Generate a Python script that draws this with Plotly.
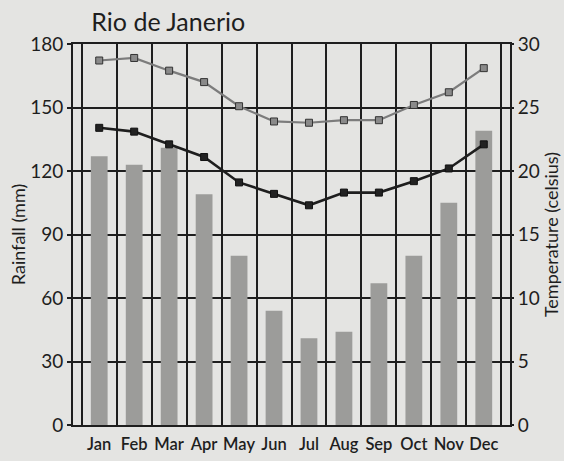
import plotly.graph_objects as go

months = ["Jan", "Feb", "Mar", "Apr", "May", "Jun", "Jul", "Aug", "Sep", "Oct", "Nov", "Dec"]
rainfall_mm = [127, 123, 131, 109, 80, 54, 41, 44, 67, 80, 105, 139]
temp_max_c = [28.7, 28.9, 27.9, 27.0, 25.1, 23.9, 23.8, 24.0, 24.0, 25.2, 26.2, 28.1]
temp_min_c = [23.4, 23.1, 22.1, 21.1, 19.1, 18.2, 17.3, 18.3, 18.3, 19.2, 20.2, 22.1]

bg = "#e4e4e2"
ink = "#1e1e1e"
font_family = "Lato, 'Open Sans', sans-serif"

fig = go.Figure()
fig.add_trace(go.Bar(x=months, y=rainfall_mm, marker=dict(color="#9c9c9a", line=dict(width=0)),
                     yaxis="y", showlegend=False))
fig.add_trace(go.Scatter(x=months, y=temp_max_c, yaxis="y2", mode="lines+markers",
                         line=dict(color="#7c7c7c", width=2.2),
                         marker=dict(symbol="square", size=7, color="#8a8a8a",
                                     line=dict(color="#333333", width=1)),
                         showlegend=False))
fig.add_trace(go.Scatter(x=months, y=temp_min_c, yaxis="y2", mode="lines+markers",
                         line=dict(color=ink, width=2.6),
                         marker=dict(symbol="square", size=7, color="#222222",
                                     line=dict(color="#111111", width=1)),
                         showlegend=False))

fig.update_layout(
    width=564, height=461,
    margin=dict(l=73, r=54, t=44, b=36, autoexpand=False),
    paper_bgcolor=bg, plot_bgcolor=bg,
    font=dict(family=font_family, color=ink),
    bargap=0.52,
    title=dict(text="Rio de Janerio", x=0.162, xanchor="left", y=0.952, yanchor="middle",
               font=dict(size=25, color=ink)),
    xaxis=dict(type="category", tickson="boundaries", showgrid=True, gridcolor=ink, gridwidth=1.5,
               showline=True, linecolor=ink, linewidth=2, mirror=True, tickangle=0,
               ticks="", tickfont=dict(size=16.5, color=ink, weight=600), ticklabelstandoff=3,
               automargin=False),
    yaxis=dict(range=[0, 180], dtick=30, showgrid=True, gridcolor=ink, gridwidth=1.5,
               showline=True, linecolor=ink, linewidth=2, mirror=True, zeroline=False,
               ticks="outside", ticklen=4, tickcolor=ink, tickwidth=1.5,
               tickfont=dict(size=19, color=ink), automargin=False,
               title=dict(text="Rainfall (mm)", font=dict(size=18, color=ink), standoff=0)),
    yaxis2=dict(range=[0, 30], dtick=5, overlaying="y", side="right", showgrid=False,
                zeroline=False, ticks="outside", ticklen=3, tickcolor=ink, tickwidth=1.5,
                tickfont=dict(size=19, color=ink), automargin=False,
                title=dict(text="Temperature (celsius)", font=dict(size=18, color=ink), standoff=2)),
)

fig.write_html("out.html", config={"displayModeBar": False},
               post_script="document.body.style.margin='0';document.body.style.background='%s';" % bg)
